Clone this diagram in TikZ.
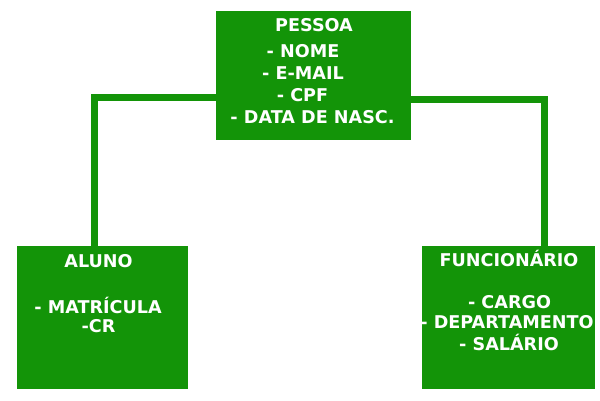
\documentclass[tikz,border=0pt]{standalone}
\usepackage{fontspec}
\setmainfont{DejaVu Sans}
\definecolor{boxgreen}{RGB}{19,148,8}
\begin{document}
\begin{tikzpicture}[x=1pt,y=-1pt,
  box/.style={fill=boxgreen,draw=none,inner sep=0pt,anchor=north west},
  lbl/.style={text=white,inner sep=0pt,font=\fontsize{17.6}{19}\selectfont\bfseries},
  link/.style={draw=boxgreen,line width=7pt}]
\fill[white] (0,0) rectangle (600,400);
\useasboundingbox (0,0) rectangle (600,400);
\node[box,minimum width=195pt,minimum height=129pt] (pessoa) at (216,11) {};
\node[box,minimum width=171pt,minimum height=143pt] (aluno) at (17,246) {};
\node[box,minimum width=173pt,minimum height=143pt] (func) at (422,246) {};
\coordinate (pl) at (216,97);
\coordinate (pr) at (411,99);
\coordinate (al) at (94.5,246);
\coordinate (fr) at (544.5,246);
\draw[link] (pl) -| (al);
\draw[link] (pr) -| (fr);
% PESSOA texts
\node[lbl] (t1) at (314,25) {PESSOA};
\node[lbl] (t2) at (303,51) {- NOME};
\node[lbl] (t3) at (303,73) {- E-MAIL};
\node[lbl] (t4) at (302.5,95) {- CPF};
\node[lbl] (t5) at (312.5,117) {- DATA DE NASC.};
% ALUNO texts
\node[lbl] (a1) at (98.5,261.5) {ALUNO};
\node[lbl] (a2) at (98,305) {- MATRÍCULA};
\node[lbl] (a3) at (98.5,326) {-CR};
% FUNCIONARIO texts
\node[lbl] (f1) at (509,258) {FUNCIONÁRIO};
\node[lbl] (f2) at (509.5,302.5) {- CARGO};
\node[lbl] (f3) at (507,322) {- DEPARTAMENTO};
\node[lbl] (f4) at (509,342.5) {- SALÁRIO};
\end{tikzpicture}
\end{document}
